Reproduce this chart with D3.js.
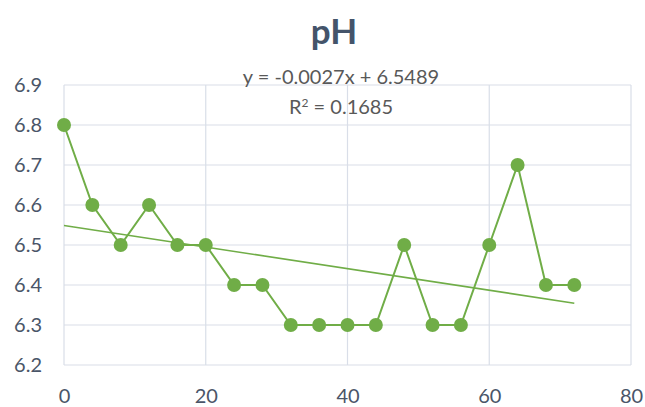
<!DOCTYPE html>
<html>
<head>
<meta charset="utf-8">
<script src="https://cdn.jsdelivr.net/npm/d3@7"></script>
<style>
  body { margin: 0; background: #fff; }
  text { font-family: Lato, "Open Sans", sans-serif; }
</style>
</head>
<body>
<div id="chart"></div>
<script>
var hours = [0, 4, 8, 12, 16, 20, 24, 28, 32, 36, 40, 44, 48, 52, 56, 60, 64, 68, 72];
var phValues = [6.8, 6.6, 6.5, 6.6, 6.5, 6.5, 6.4, 6.4, 6.3, 6.3, 6.3, 6.3, 6.5, 6.3, 6.3, 6.5, 6.7, 6.4, 6.4];
var xTicks = [0, 20, 40, 60, 80];
var yTicks = [6.2, 6.3, 6.4, 6.5, 6.6, 6.7, 6.8, 6.9];
var trendSlope = -0.0027,
  trendIntercept = 6.5489;
var titleText = 'pH',
  eqText = 'y = -0.0027x + 6.5489',
  r2Value = ' = 0.1685';

var width = 645,
  height = 407;

var green = '#70ad47',
  gridColor = '#d9dee8',
  tickColor = '#4a5568',
  labelColor = '#595959';

var svg = d3.select('#chart').append('svg').attr('width', width).attr('height', height);

var x = d3.scaleLinear().domain([0, 80]).range([64, 631]);
var y = d3.scaleLinear().domain([6.2, 6.9]).range([365, 85]);

// grid
svg.append('g').selectAll('line').data(yTicks).enter().append('line')
  .attr('x1', x(0)).attr('x2', x(80))
  .attr('y1', function(d) { return y(d); }).attr('y2', function(d) { return y(d); })
  .attr('stroke', gridColor).attr('stroke-width', 1.2);

svg.append('g').selectAll('line').data(xTicks).enter().append('line')
  .attr('y1', y(6.2)).attr('y2', y(6.9))
  .attr('x1', function(d) { return x(d); }).attr('x2', function(d) { return x(d); })
  .attr('stroke', gridColor).attr('stroke-width', 1.2);

// axes labels
var yAxis = d3.axisLeft(y).tickValues(yTicks).tickFormat(d3.format('.1f')).tickSize(0).tickPadding(22);
svg.append('g').attr('transform', 'translate(' + x(0) + ',0)').call(yAxis)
  .call(function(g) { g.select('.domain').remove(); })
  .selectAll('text').attr('fill', tickColor).style('font-size', '20px').style('font-family', 'Lato, sans-serif');

var xAxis = d3.axisBottom(x).tickValues(xTicks).tickSize(0).tickPadding(24);
svg.append('g').attr('transform', 'translate(0,' + y(6.2) + ')').call(xAxis)
  .call(function(g) { g.select('.domain').remove(); })
  .selectAll('text').attr('fill', tickColor).style('font-size', '20px').style('font-family', 'Lato, sans-serif');

// trendline
var trend = [hours[0], hours[hours.length - 1]];
svg.append('line')
  .attr('x1', x(trend[0])).attr('y1', y(trendIntercept + trendSlope * trend[0]))
  .attr('x2', x(trend[1])).attr('y2', y(trendIntercept + trendSlope * trend[1]))
  .attr('stroke', green).attr('stroke-width', 1.6);

// series
var line = d3.line()
  .x(function(d, i) { return x(hours[i]); })
  .y(function(d) { return y(d); });

svg.append('path')
  .datum(phValues)
  .attr('d', line)
  .attr('fill', 'none')
  .attr('stroke', green)
  .attr('stroke-width', 2);

svg.append('g').selectAll('circle').data(phValues).enter().append('circle')
  .attr('cx', function(d, i) { return x(hours[i]); })
  .attr('cy', function(d) { return y(d); })
  .attr('r', 7)
  .attr('fill', green);

// title
svg.append('text')
  .attr('x', 334).attr('y', 44)
  .attr('text-anchor', 'middle')
  .attr('fill', '#44546a')
  .style('font-size', '35px').style('font-weight', 'bold')
  .text(titleText);

// equation
svg.append('text')
  .attr('x', 341).attr('y', 84)
  .attr('text-anchor', 'middle')
  .attr('fill', labelColor)
  .style('font-size', '20px')
  .text(eqText);

var r2 = svg.append('text')
  .attr('x', 341).attr('y', 114)
  .attr('text-anchor', 'middle')
  .attr('fill', labelColor)
  .style('font-size', '20px');
r2.append('tspan').text('R');
r2.append('tspan').attr('baseline-shift', 'super').style('font-size', '12px').text('2');
r2.append('tspan').text(r2Value);
</script>
</body>
</html>
